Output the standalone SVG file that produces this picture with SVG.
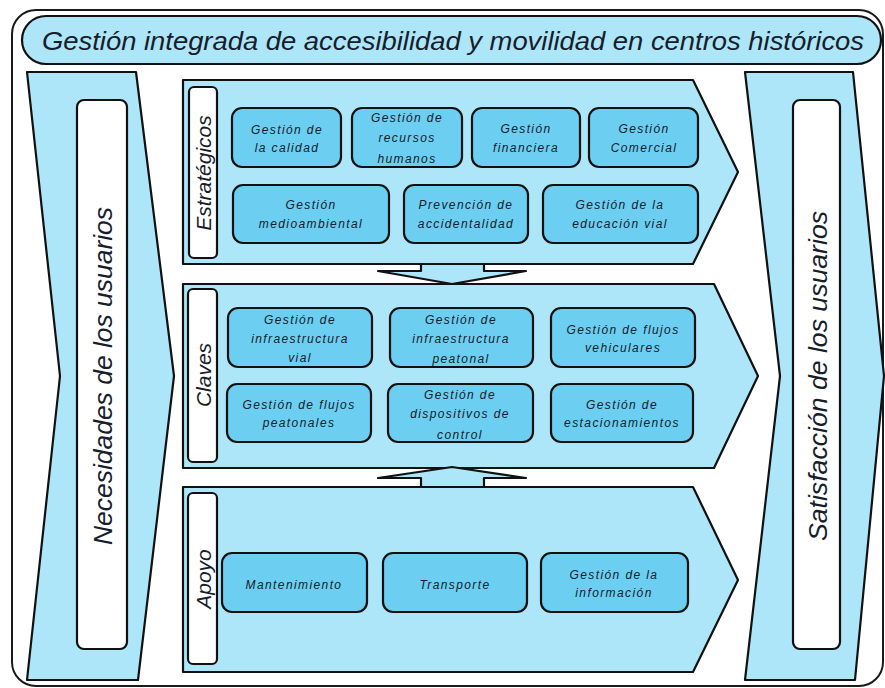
<svg xmlns="http://www.w3.org/2000/svg" width="885" height="688" viewBox="0 0 885 688">
<defs>
<style>
.bg{fill:#ffffff}
.frame{fill:none;stroke:#1a1a1a;stroke-width:2}
.lb{fill:#aee6f9;stroke:#111;stroke-width:2.2;stroke-linejoin:round}
.wh{fill:#ffffff;stroke:#111;stroke-width:2.2}
.nd{fill:#6ccff1;stroke:#111;stroke-width:2.2}
.t{font-family:"Liberation Sans",Arial,sans-serif;font-style:italic;fill:#16202b}
.nt{font-size:12px;letter-spacing:1.4px;text-anchor:middle}
.big{font-size:25px;text-anchor:middle}
.lab{font-size:21px;text-anchor:middle}
.ttl{font-size:26px}
</style>
</defs>
<rect class="bg" x="0" y="0" width="885" height="688"/>
<rect class="frame" x="12" y="10" width="871" height="676" rx="24"/>

<g id="title">
<rect class="lb" x="22" y="16" width="859" height="48" rx="24"/>
<text class="t ttl" x="42" y="50" textLength="822" lengthAdjust="spacingAndGlyphs">Gestión integrada de accesibilidad y movilidad en centros históricos</text>
</g>

<g id="necesidades">
<polygon class="lb" points="27,72 136,72 174,376 138,680 27,680 60,376"/>
<rect class="wh" x="77" y="100" width="50" height="549" rx="7"/>
<text class="t big" x="112" y="376" transform="rotate(-90 112 376)" textLength="338" lengthAdjust="spacingAndGlyphs">Necesidades de los usuarios</text>
</g>

<g id="satisfaccion">
<polygon class="lb" points="745,72 853,72 884,376 855,680 745,680 780,376"/>
<rect class="wh" x="793" y="100" width="47" height="549" rx="7"/>
<text class="t big" x="827" y="376" transform="rotate(-90 827 376)" textLength="330" lengthAdjust="spacingAndGlyphs">Satisfacción de los usuarios</text>
</g>

<g id="estrategicos">
<polygon class="lb" points="183,80 693,80 738,172 693,264 183,264"/>
<rect class="wh" x="189" y="87" width="28" height="171" rx="5"/>
<text class="t lab" x="211" y="173" transform="rotate(-90 211 173)">Estratégicos</text>
</g>

<g id="claves">
<polygon class="lb" points="183,284 714,284 758,376 714,468 183,468"/>
<rect class="wh" x="188" y="289" width="29" height="173" rx="5"/>
<text class="t lab" x="211" y="375" transform="rotate(-90 211 375)">Claves</text>
</g>

<g id="apoyo">
<polygon class="lb" points="183,487 693,487 738,580 693,672 183,672"/>
<rect class="wh" x="188" y="493" width="29" height="171" rx="5"/>
<text class="t lab" x="211" y="579" transform="rotate(-90 211 579)">Apoyo</text>
</g>

<g id="connectors">
<polygon class="lb" points="421,264 484,264 484,271 526,271 452,284 378,271 421,271"/>
<polygon class="lb" points="421,487 484,487 484,478 526,478 452,467 378,478 421,478"/>
</g>

<g id="n-calidad">
<rect class="nd" x="232" y="108" width="109" height="59" rx="10"/>
<text class="t nt" x="287" y="134">Gestión de</text>
<text class="t nt" x="287" y="152">la calidad</text>
</g>
<g id="n-rrhh">
<rect class="nd" x="352" y="108" width="110" height="59" rx="10"/>
<text class="t nt" x="407" y="122">Gestión de</text>
<text class="t nt" x="407" y="142">recursos</text>
<text class="t nt" x="407" y="163">humanos</text>
</g>
<g id="n-financiera">
<rect class="nd" x="472" y="108" width="108" height="59" rx="10"/>
<text class="t nt" x="526" y="133">Gestión</text>
<text class="t nt" x="526" y="152">financiera</text>
</g>
<g id="n-comercial">
<rect class="nd" x="589" y="108" width="109" height="59" rx="10"/>
<text class="t nt" x="644" y="133">Gestión</text>
<text class="t nt" x="644" y="152">Comercial</text>
</g>
<g id="n-medioambiental">
<rect class="nd" x="233" y="185" width="156" height="58" rx="10"/>
<text class="t nt" x="311" y="209">Gestión</text>
<text class="t nt" x="311" y="228">medioambiental</text>
</g>
<g id="n-prevencion">
<rect class="nd" x="404" y="185" width="124" height="58" rx="10"/>
<text class="t nt" x="466" y="209">Prevención de</text>
<text class="t nt" x="466" y="228">accidentalidad</text>
</g>
<g id="n-educacion">
<rect class="nd" x="543" y="185" width="155" height="58" rx="10"/>
<text class="t nt" x="620" y="209">Gestión de la</text>
<text class="t nt" x="620" y="228">educación vial</text>
</g>

<g id="n-infra-vial">
<rect class="nd" x="228" y="308" width="144" height="59" rx="10"/>
<text class="t nt" x="300" y="324">Gestión de</text>
<text class="t nt" x="300" y="343">infraestructura</text>
<text class="t nt" x="300" y="362">vial</text>
</g>
<g id="n-infra-peatonal">
<rect class="nd" x="390" y="308" width="143" height="59" rx="10"/>
<text class="t nt" x="461" y="324">Gestión de</text>
<text class="t nt" x="461" y="343">infraestructura</text>
<text class="t nt" x="461" y="363">peatonal</text>
</g>
<g id="n-flujos-veh">
<rect class="nd" x="551" y="308" width="144" height="59" rx="10"/>
<text class="t nt" x="623" y="334">Gestión de flujos</text>
<text class="t nt" x="623" y="352">vehiculares</text>
</g>
<g id="n-flujos-peat">
<rect class="nd" x="227" y="384" width="144" height="58" rx="10"/>
<text class="t nt" x="299" y="409">Gestión de flujos</text>
<text class="t nt" x="299" y="427">peatonales</text>
</g>
<g id="n-dispositivos">
<rect class="nd" x="388" y="384" width="145" height="58" rx="10"/>
<text class="t nt" x="460" y="399">Gestión de</text>
<text class="t nt" x="460" y="418">dispositivos de</text>
<text class="t nt" x="460" y="439">control</text>
</g>
<g id="n-estacionamientos">
<rect class="nd" x="551" y="384" width="142" height="58" rx="10"/>
<text class="t nt" x="622" y="409">Gestión de</text>
<text class="t nt" x="622" y="427">estacionamientos</text>
</g>

<g id="n-mantenimiento">
<rect class="nd" x="222" y="553" width="145" height="59" rx="10"/>
<text class="t nt" x="294" y="589">Mantenimiento</text>
</g>
<g id="n-transporte">
<rect class="nd" x="383" y="553" width="144" height="59" rx="10"/>
<text class="t nt" x="455" y="589">Transporte</text>
</g>
<g id="n-informacion">
<rect class="nd" x="541" y="553" width="147" height="59" rx="10"/>
<text class="t nt" x="614" y="579">Gestión de la</text>
<text class="t nt" x="614" y="597">información</text>
</g>
</svg>
